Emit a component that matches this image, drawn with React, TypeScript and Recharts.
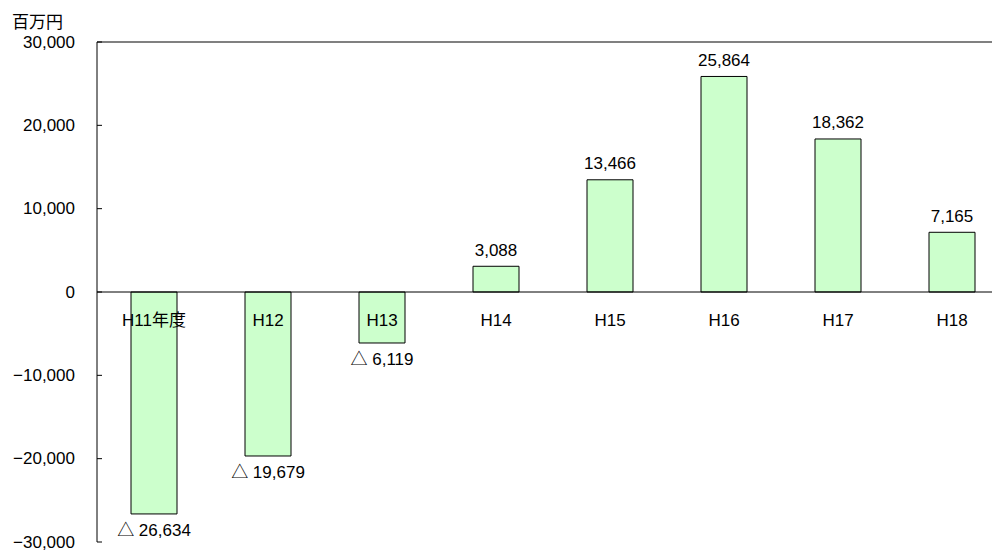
import { Bar, BarChart, LabelList, ReferenceLine, XAxis, YAxis } from 'recharts';

const categories = ['H11年度', 'H12', 'H13', 'H14', 'H15', 'H16', 'H17', 'H18'];
const balance = [-26634, -19679, -6119, 3088, 13466, 25864, 18362, 7165];
const yTicks = [-30000, -20000, -10000, 0, 10000, 20000, 30000];

const data = categories.map((name, i) => ({ name, value: balance[i] }));

const FONT = "'Liberation Sans', 'Noto Sans CJK JP', sans-serif";
const TICK_GAP = 22;

const fmtTick = (v: number) => (v < 0 ? '−' : '') + Math.abs(v).toLocaleString('en-US');

// y-axis tick: label to the left, short mark pointing into the plot
function YTick(props: any) {
  const { x, y, payload } = props;
  return (
    <g>
      <line x1={x + TICK_GAP} x2={x + TICK_GAP + 5} y1={y} y2={y} stroke="#000" />
      <text x={x} y={y} textAnchor="end" dominantBaseline="central" fill="#000" fontSize={17} fontFamily={FONT}>
        {fmtTick(payload.value)}
      </text>
    </g>
  );
}

function ValueLabel(props: any) {
  const { x, y, width, height, value } = props;
  const top = Math.min(y, y + height);
  const bottom = Math.max(y, y + height);
  const neg = value < 0;
  const text = (neg ? '△ ' : '') + Math.abs(value).toLocaleString('en-US');
  return (
    <text
      x={x + width / 2}
      y={neg ? bottom + 17 : top - 16}
      textAnchor="middle"
      dominantBaseline="central"
      fill="#000"
      fontSize={17}
      fontFamily={FONT}
    >
      {text}
    </text>
  );
}

function CategoryLabel(props: any) {
  const { x, y, width, height, value, index } = props;
  // baseline of the bar sits on the zero line
  const zeroY = value >= 0 ? Math.max(y, y + height) : Math.min(y, y + height);
  return (
    <text
      x={x + width / 2}
      y={zeroY + 28}
      textAnchor="middle"
      dominantBaseline="central"
      fill="#000"
      fontSize={17}
      fontFamily={FONT}
    >
      {categories[index]}
    </text>
  );
}

export default function App() {
  return (
    <div style={{ position: 'fixed', left: 0, top: 0, width: 992, height: 550, overflow: 'hidden', background: '#fff' }}>
      <div
        style={{ position: 'absolute', left: 12, top: 8, fontSize: 17, fontFamily: FONT, color: '#000' }}
      >
        百万円
      </div>
      <BarChart
        width={1012}
        height={550}
        data={data}
        margin={{ top: 42, right: 3, bottom: 8, left: 0 }}
        barSize={46}
      >
        <XAxis dataKey="name" tick={false} tickLine={false} axisLine={{ stroke: '#000' }} height={0} />
        <YAxis
          width={97}
          domain={[-30000, 30000]}
          ticks={yTicks}
          interval={0}
          axisLine={{ stroke: '#000' }}
          tickLine={false}
          tickSize={0}
          tickMargin={TICK_GAP}
          tick={<YTick />}
        />
        <ReferenceLine y={30000} stroke="#808080" strokeWidth={2} />
        <ReferenceLine y={0} stroke="#000" />
        <Bar dataKey="value" fill="#ccffcc" stroke="#000" strokeWidth={1} isAnimationActive={false}>
          <LabelList dataKey="value" content={<ValueLabel />} />
          <LabelList dataKey="value" content={<CategoryLabel />} />
        </Bar>
      </BarChart>
    </div>
  );
}
